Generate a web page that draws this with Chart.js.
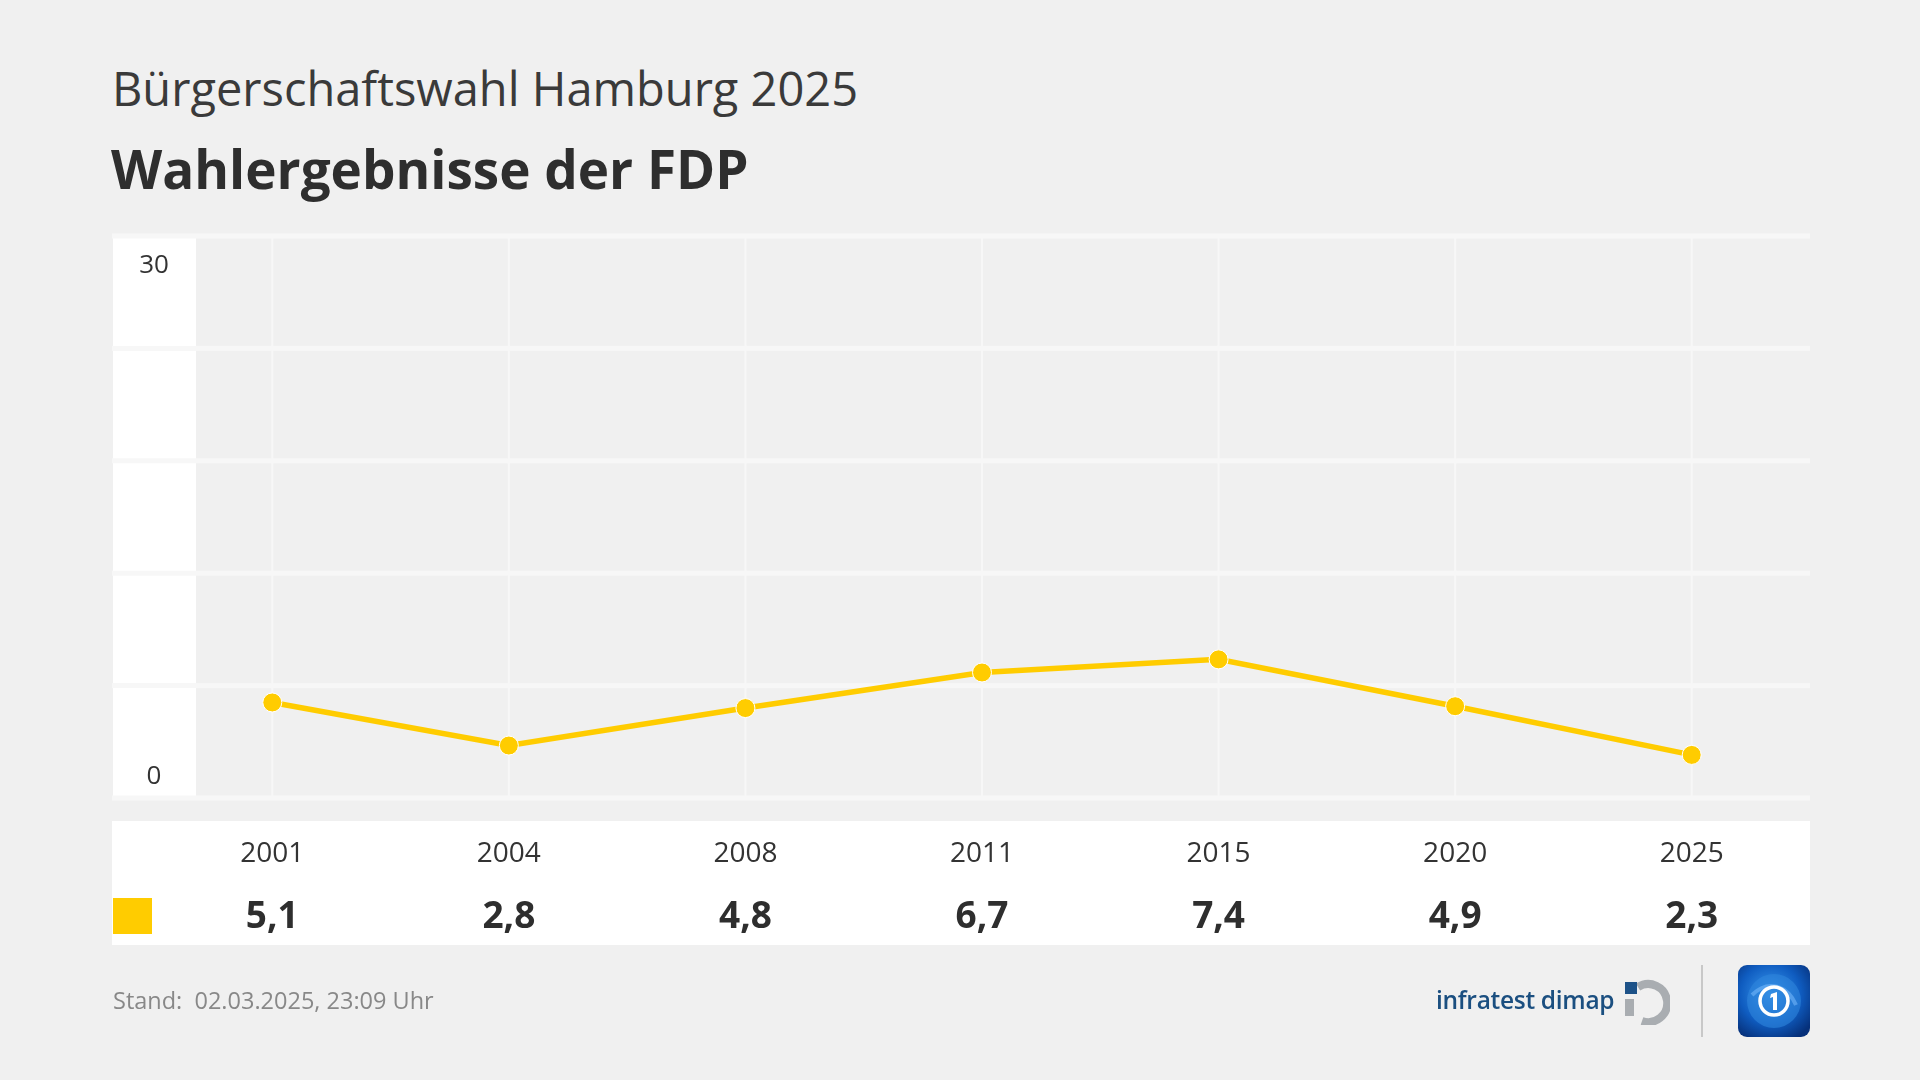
<!DOCTYPE html>
<html>
<head>
<meta charset="utf-8">
<script src="https://cdn.jsdelivr.net/npm/chart.js@4"></script>
<style>
  html, body { margin: 0; padding: 0; }
  body { width: 1920px; height: 1080px; background: #f0f0f0; position: relative; overflow: hidden; font-family: "Open Sans", sans-serif; color: #333; }
  .txt { position: absolute; white-space: nowrap; }
  #sub { left: 112px; top: 61px; font-size: 47px; line-height: 54px; font-weight: 400; color: #3a3a3a; }
  #title { left: 111px; top: 138px; font-size: 53px; line-height: 62px; font-weight: 700; color: #2e2e2e; }
  #stand { left: 113px; top: 986px; font-size: 23.5px; line-height: 28px; color: #888; }
  #infra { left: 1436px; top: 983px; font-size: 24.5px; line-height: 34px; font-weight: 600; color: #1b4f80; letter-spacing: -0.3px; }
  #sep { position: absolute; left: 1701px; top: 965px; width: 2px; height: 72px; background: #c8c8c8; }
  canvas { position: absolute; left: 0; top: 0; }
</style>
</head>
<body>
<div class="txt" id="sub">Bürgerschaftswahl Hamburg 2025</div>
<div class="txt" id="title">Wahlergebnisse der FDP</div>
<canvas id="line-chart" width="1920" height="1080"></canvas>
<div class="txt" id="stand">Stand:&nbsp; 02.03.2025, 23:09 Uhr</div>
<div class="txt" id="infra">infratest dimap</div>
<svg style="position:absolute;left:1622px;top:979px" width="48" height="46" viewBox="0 0 48 46">
  <path d="M 16 8 A 19 19 0 1 1 20 42" fill="none" stroke="#a9adb1" stroke-width="8"/>
  <rect x="3" y="3" width="12" height="12" fill="#1d5288"/>
  <rect x="3" y="20" width="9" height="17" fill="#a9adb1"/>
</svg>
<div id="sep"></div>
<svg style="position:absolute;left:1738px;top:965px" width="72" height="72" viewBox="0 0 72 72">
  <defs>
    <radialGradient id="g" cx="0.45" cy="0.4" r="0.7">
      <stop offset="0" stop-color="#3a9af0"/>
      <stop offset="0.6" stop-color="#0f5cc0"/>
      <stop offset="1" stop-color="#06307a"/>
    </radialGradient>
  </defs>
  <rect x="0" y="0" width="72" height="72" rx="9" fill="url(#g)"/>
  <circle cx="36" cy="36" r="27" fill="#2f86dc" opacity="0.6"/>
  <path d="M 14 30 Q 26 18 40 22 Q 52 26 58 40" fill="none" stroke="#7fc0ff" stroke-width="4" opacity="0.5"/>
  <circle cx="36" cy="36" r="14" fill="none" stroke="#fff" stroke-width="3.5"/>
  <path d="M 33 29 L 39 27 L 39 45 L 35 45 L 35 32 L 32 33 Z" fill="#fff"/>
</svg>
<script>
const years = ["2001", "2004", "2008", "2011", "2015", "2020", "2025"];
const fdpValues = [5.1, 2.8, 4.8, 6.7, 7.4, 4.9, 2.3];
const yTicks = [0, 6, 12, 18, 24, 30];
const yLabels = ["0", "30"];

const fdpColor = "#ffcc00";
const fmt = (v) => v.toFixed(1).replace(".", ",");

// background bands, white y column and grid
const gridPlugin = {
  id: "bands",
  beforeDatasetsDraw(chart) {
    const { ctx, chartArea, scales } = chart;
    const y = scales.y, x = scales.x;
    const top = y.getPixelForValue(30), bottom = y.getPixelForValue(0);
    ctx.save();
    ctx.fillStyle = "#ffffff";
    ctx.fillRect(113, top, 83, bottom - top);
    ctx.fillStyle = "#f7f7f7";
    years.forEach((yr, i) => {
      const px = x.getPixelForValue(i);
      ctx.fillRect(px - 1, top, 2, bottom - top);
    });
    yTicks.forEach((t) => {
      const py = y.getPixelForValue(t);
      ctx.fillRect(112, py - 2.5, chartArea.right - 112, 5);
    });
    ctx.fillStyle = "#333";
    ctx.font = "26px 'Open Sans'";
    ctx.textAlign = "center";
    ctx.textBaseline = "middle";
    ctx.fillText(yLabels[1], 154, top + 30);
    ctx.fillText(yLabels[0], 154, bottom - 21);
    ctx.restore();
  },
  afterDraw(chart) {
    const { ctx, chartArea, scales } = chart;
    const x = scales.x;
    ctx.save();
    ctx.fillStyle = "#ffffff";
    ctx.fillRect(112, 821, chartArea.right - 112, 124);
    ctx.fillStyle = fdpColor;
    ctx.fillRect(113, 898, 39, 36);
    ctx.textAlign = "center";
    ctx.textBaseline = "middle";
    years.forEach((yr, i) => {
      const px = x.getPixelForValue(i);
      ctx.fillStyle = "#333";
      ctx.font = "28px 'Open Sans'";
      ctx.fillText(yr, px, 854.5);
      ctx.fillStyle = "#2e2e2e";
      ctx.font = "bold 37px 'Open Sans'";
      ctx.fillText(fmt(fdpValues[i]), px, 917.5);
    });
    ctx.restore();
  }
};

const ctx = document.getElementById("line-chart").getContext("2d");
new Chart(ctx, {
  type: "line",
  data: {
    labels: years,
    datasets: [{
      label: "FDP",
      data: fdpValues,
      borderColor: fdpColor,
      backgroundColor: fdpColor,
      borderWidth: 5.5,
      pointRadius: 9.5,
      pointBackgroundColor: fdpColor,
      pointBorderColor: "#ffffff",
      pointBorderWidth: 1,
      tension: 0,
      clip: false
    }]
  },
  options: {
    responsive: false,
    animation: false,
    layout: { padding: { left: 154, right: 110, top: 236, bottom: 282 } },
    plugins: { legend: { display: false }, tooltip: { enabled: false } },
    scales: {
      x: { display: false, offset: true },
      y: { display: false, min: 0, max: 30 }
    }
  },
  plugins: [gridPlugin]
});
</script>
</body>
</html>
